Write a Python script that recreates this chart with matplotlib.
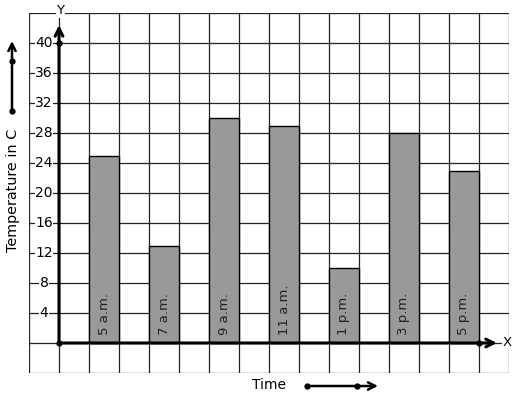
import matplotlib.pyplot as plt

# data
times = ["5 a.m.", "7 a.m.", "9 a.m.", "11 a.m.", "1 p.m.", "3 p.m.", "5 p.m."]
temps = [25, 13, 30, 29, 10, 28, 23]
yticks = [4, 8, 12, 16, 20, 24, 28, 32, 36, 40]

W, H = 517, 399
fig = plt.figure(figsize=(W / 100, H / 100), dpi=100)
ax = fig.add_axes([29 / W, (H - 373) / H, 480 / W, 360 / H])
ax.set_xlim(-1, 15)
ax.set_ylim(-4, 44)
ax.axis('off')

# grid
for gx in range(-1, 16):
    ax.axvline(gx, color='#222222', lw=0.9, zorder=1)
for gy in range(-4, 45, 4):
    ax.axhline(gy, color='#222222', lw=0.9, zorder=1)

# bars, one grid cell wide, every second cell
xs = [1.5 + 2 * i for i in range(len(times))]
ax.bar(xs, temps, width=1, color='#999999', edgecolor='black', lw=1, zorder=2)
for x, lab in zip(xs, times):
    ax.text(x, 1.1, lab, rotation=90, ha='center', va='bottom',
            fontsize=9.5, color='#222222', zorder=3)

# axes with arrows
arx = dict(arrowstyle='->', lw=2.2, color='black', mutation_scale=14,
           shrinkA=0, shrinkB=0)
ax.annotate('', xy=(0, 42.4), xytext=(0, 0), arrowprops=arx, zorder=4)
ax.annotate('', xy=(14.6, 0), xytext=(0, 0), arrowprops=arx, zorder=4)
ax.plot([0, 0, 14], [0, 40, 0], 'o', color='black', ms=3.5, zorder=5)
ax.text(0.05, 44.3, 'Y', ha='center', va='center', fontsize=9.5, zorder=5,
        bbox=dict(facecolor='white', edgecolor='none', pad=0.5), clip_on=False)
ax.text(14.95, 0, 'X', ha='center', va='center', fontsize=9.5, zorder=5,
        bbox=dict(facecolor='white', edgecolor='none', pad=0.5), clip_on=False)

for t in yticks:
    ax.text(-0.5, t, str(t), ha='center', va='center', fontsize=10,
            bbox=dict(facecolor='white', edgecolor='none', pad=0.3), zorder=3)

# axis titles with their arrows
fig.text(13 / W, 1 - 190 / H, 'Temperature in C', rotation=90,
         ha='center', va='center', fontsize=10.4)
fig.text(269 / W, 1 - 385 / H, 'Time', ha='center', va='center', fontsize=10)

arw = dict(arrowstyle='->', lw=1.8, color='black', mutation_scale=13,
           shrinkA=0, shrinkB=0)
ax.annotate('', xy=(12, H - 41), xytext=(12, H - 111),
            xycoords='figure pixels', textcoords='figure pixels',
            arrowprops=arw)
ax.annotate('', xy=(378, H - 386), xytext=(307, H - 386),
            xycoords='figure pixels', textcoords='figure pixels',
            arrowprops=arw)
for px, py in [(12, 111), (12, 61), (307, 386), (357, 386)]:
    fig.add_artist(plt.Line2D([px / W], [1 - py / H], marker='o', ms=3.5,
                              color='black', transform=fig.transFigure))

fig.savefig('out.png', dpi=100)
